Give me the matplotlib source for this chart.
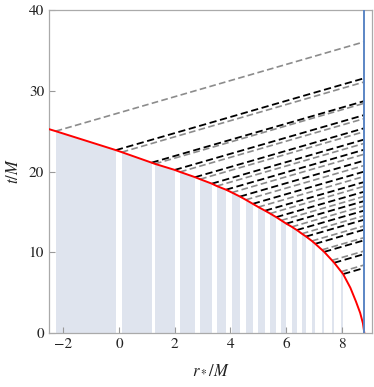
import numpy as np
import matplotlib
matplotlib.use("Agg")
import matplotlib.pyplot as plt

plt.rcParams['font.family'] = ['STIXGeneral', 'DejaVu Serif']
plt.rcParams['mathtext.fontset'] = 'stix'

# observer position (r*/M)
r_obs = 8.80

# strips on the star surface: start / end in r*, and the surface time there
strip_a = [-2.27, 0.10, 1.29, 2.19, 2.91, 3.51, 4.05, 4.55, 5.00, 5.42,
           5.82, 6.20, 6.56, 6.92, 7.28, 7.64, 7.97]
strip_b = [-0.11, 1.17, 2.00, 2.73, 3.33, 3.84, 4.34, 4.80, 5.24, 5.64,
           6.00, 6.38, 6.71, 7.04, 7.36, 7.72, 8.04]
t_a = [25.0, 22.4, 20.95, 19.95, 19.05, 18.2, 17.4, 16.5, 15.6, 14.8,
       13.95, 13.15, 12.3, 11.4, 10.3, 9.0, 7.6]
t_b = [22.65, 21.1, 20.2, 19.3, 18.5, 17.75, 16.9, 16.0, 15.15, 14.35,
       13.55, 12.75, 11.95, 11.05, 10.05, 8.7, 7.3]

# extra surface points (left edge and bottom part)
edge_r = [-2.51]
edge_t = [25.25]
tail_r = [8.30, 8.50, 8.65, 8.75, 8.80]
tail_t = [5.6, 3.9, 2.5, 1.2, 0.0]

curve = sorted(zip(edge_r + strip_a + strip_b + tail_r,
                   edge_t + t_a + t_b + tail_t))
curve_r = np.array([c[0] for c in curve])
curve_t = np.array([c[1] for c in curve])

fig = plt.figure(figsize=(3.74, 3.87), dpi=100)
ax = fig.add_axes([0.131, 0.1395, 0.864, 0.8345])

# shaded strips under the surface
ax.fill_between(curve_r, 0, curve_t, color='#dfe4ee', lw=0, zorder=1)
gaps = [(-3, strip_a[0])] + list(zip(strip_b[:-1], strip_a[1:])) + [(strip_b[-1], 10)]
for lo, hi in gaps:
    ax.axvspan(lo, hi, color='white', lw=0, zorder=1.5)

# outgoing null rays to the observer
for r0, t0 in zip(strip_a, t_a):
    ax.plot([r0, r_obs], [t0, t0 + r_obs - r0], color='#8c8c8c', lw=1.2,
            dashes=(4, 2), zorder=2)
for r0, t0 in zip(strip_b, t_b):
    ax.plot([r0, r_obs], [t0, t0 + r_obs - r0], color='black', lw=1.3,
            dashes=(4, 2), zorder=2.1)

ax.plot(curve_r, curve_t, color='#ff0000', lw=1.4, zorder=3)
ax.axvline(r_obs, color='#5b86c5', lw=1.4, zorder=3)

ax.set_xlim(-2.51, 9.08)
ax.set_ylim(0, 40)
ax.set_xticks([-2, 0, 2, 4, 6, 8])
ax.set_yticks([0, 10, 20, 30, 40])
ax.tick_params(direction='in', length=4, width=0.8, color='#999999',
               labelsize=11, labelcolor='#222222', top=False, right=False)
for s in ax.spines.values():
    s.set_color('#aaaaaa')
    s.set_linewidth(0.9)
ax.set_xlabel(r'$r_*/M$', fontsize=12, color='#222222', labelpad=8)
ax.set_ylabel(r'$t/M$', fontsize=12, color='#222222', labelpad=5)

fig.savefig('out.png', dpi=100)
